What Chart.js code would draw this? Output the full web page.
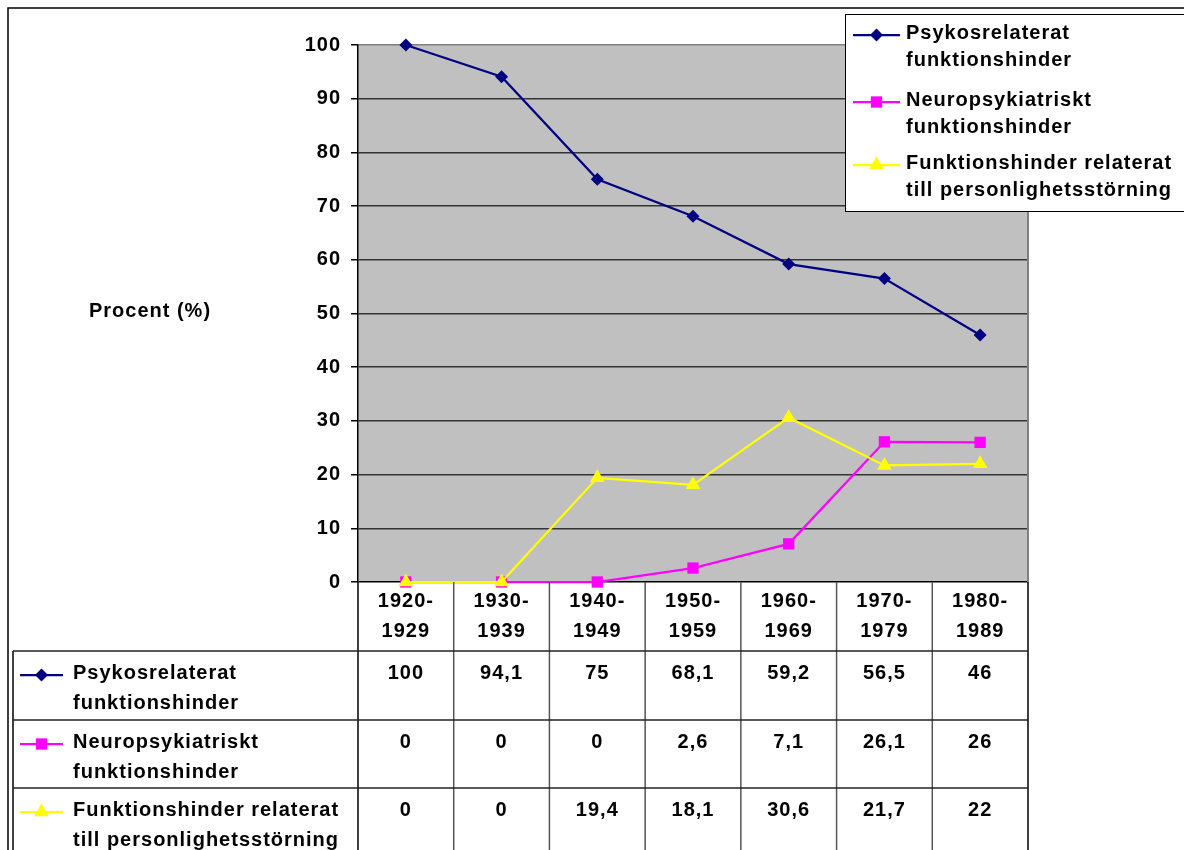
<!DOCTYPE html>
<html>
<head>
<meta charset="utf-8">
<script src="https://cdn.jsdelivr.net/npm/chart.js@4/dist/chart.umd.min.js"></script>
<style>
  html, body { margin: 0; padding: 0; background: #fff; }
  canvas { display: block; }
</style>
</head>
<body>
<canvas id="c" width="1184" height="850"></canvas>
<script>
// Decades on the x axis
const categories = ['1920-1929', '1930-1939', '1940-1949', '1950-1959', '1960-1969', '1970-1979', '1980-1989'];

// Share (%) per decade for each group
const psykos = [100, 94.1, 75, 68.1, 59.2, 56.5, 46];
const neuro = [0, 0, 0, 2.6, 7.1, 26.1, 26];
const personlighet = [0, 0, 19.4, 18.1, 30.6, 21.7, 22];

// Series names, wrapped over two lines
const seriesNames = [
  ['Psykosrelaterat', 'funktionshinder'],
  ['Neuropsykiatriskt', 'funktionshinder'],
  ['Funktionshinder relaterat', 'till personlighetsstörning']
];

// Value axis
const yMin = 0;
const yMax = 100;
const yStep = 10;
const axisTitle = 'Procent (%)';

const FAMILY = "'Liberation Sans', Arial, sans-serif";
const FONT = "bold 20px " + FAMILY;
const SPACING = '1px';

function fmt(v) {
  return String(v).replace('.', ',');
}

function drawMarker(ctx, style, x, y, r, color) {
  ctx.save();
  ctx.fillStyle = color;
  ctx.beginPath();
  if (style === 'rectRot') {
    ctx.moveTo(x, y - r);
    ctx.lineTo(x + r, y);
    ctx.lineTo(x, y + r);
    ctx.lineTo(x - r, y);
  } else if (style === 'rect') {
    const s = r * Math.SQRT1_2;
    ctx.rect(x - s, y - s, 2 * s, 2 * s);
  } else if (style === 'triangle') {
    ctx.moveTo(x, y - r);
    ctx.lineTo(x + r * Math.sin(Math.PI / 3), y + r / 2);
    ctx.lineTo(x - r * Math.sin(Math.PI / 3), y + r / 2);
  }
  ctx.closePath();
  ctx.fill();
  ctx.restore();
}

function drawSample(ctx, ds, x0, x1, y) {
  ctx.save();
  ctx.strokeStyle = ds.borderColor;
  ctx.lineWidth = ds.borderWidth;
  ctx.beginPath();
  ctx.moveTo(x0, y);
  ctx.lineTo(x1, y);
  ctx.stroke();
  ctx.restore();
  drawMarker(ctx, ds.pointStyle, (x0 + x1) / 2, y, ds.pointRadius, ds.pointBackgroundColor);
}

function line(ctx, x0, y0, x1, y1, color, w) {
  ctx.save();
  ctx.strokeStyle = color;
  ctx.lineWidth = w;
  ctx.beginPath();
  ctx.moveTo(x0, y0);
  ctx.lineTo(x1, y1);
  ctx.stroke();
  ctx.restore();
}

function text(ctx, str, x, y, align) {
  ctx.save();
  ctx.font = FONT;
  ctx.letterSpacing = SPACING;
  ctx.fillStyle = '#000';
  ctx.textAlign = align || 'left';
  ctx.textBaseline = 'middle';
  ctx.fillText(str, x, y);
  ctx.restore();
}

const decor = {
  id: 'decor',
  beforeDraw(chart) {
    const { ctx, chartArea: a } = chart;
    ctx.save();
    ctx.fillStyle = '#fff';
    ctx.fillRect(0, 0, chart.width, chart.height);
    ctx.fillStyle = '#c0c0c0';
    ctx.fillRect(a.left, a.top, a.right - a.left, a.bottom - a.top);
    ctx.restore();
    ctx.letterSpacing = SPACING;
  },
  afterDraw(chart) {
    const { ctx, chartArea: a } = chart;
    const xs = chart.scales.x;
    const datasets = chart.data.datasets;

    // plot area frame (right side)
    line(ctx, a.right, a.top, a.right, a.bottom, '#808080', 2);

    // outer frame
    ctx.save();
    ctx.strokeStyle = '#000';
    ctx.lineWidth = 1.5;
    ctx.beginPath();
    ctx.moveTo(8, chart.height);
    ctx.lineTo(8, 8);
    ctx.lineTo(chart.width, 8);
    ctx.stroke();
    ctx.restore();

    // value axis title
    text(ctx, axisTitle, 150, 311, 'center');

    // legend
    ctx.save();
    ctx.fillStyle = '#fff';
    ctx.strokeStyle = '#000';
    ctx.lineWidth = 1;
    ctx.fillRect(845.5, 14.5, 400, 197);
    ctx.strokeRect(845.5, 14.5, 400, 197);
    ctx.restore();
    const legTops = [33, 100, 163];
    datasets.forEach((ds, i) => {
      const y = legTops[i];
      drawSample(ctx, ds, 853, 900, y + 2);
      text(ctx, seriesNames[i][0], 906, y);
      text(ctx, seriesNames[i][1], 906, y + 27);
    });

    // data table
    const half = (xs.getPixelForValue(1) - xs.getPixelForValue(0)) / 2;
    const top = a.bottom;
    const rows = [top + 69, top + 138, top + 206];
    const tableLeft = 13;
    const bottom = chart.height;

    // column boundaries
    for (let i = 0; i <= categories.length; i++) {
      const x = i === categories.length ? a.right : xs.getPixelForValue(i) - half;
      const col = (i === 0 || i === categories.length) ? '#000' : '#555';
      line(ctx, x, top, x, bottom, col, 1.5);
    }
    line(ctx, tableLeft, rows[0], tableLeft, bottom, '#000', 1.5);
    rows.forEach(y => line(ctx, tableLeft, y, a.right, y, '#222', 1.5));

    // header row: decades
    categories.forEach((c, i) => {
      const cx = xs.getPixelForValue(i);
      const parts = c.split('-');
      text(ctx, parts[0] + '-', cx, top + 19, 'center');
      text(ctx, parts[1], cx, top + 49, 'center');
    });

    // one row per series
    datasets.forEach((ds, r) => {
      const ry = rows[r];
      drawSample(ctx, ds, 20, 63, ry + 24);
      text(ctx, seriesNames[r][0], 73, ry + 22);
      text(ctx, seriesNames[r][1], 73, ry + 52);
      ds.data.forEach((v, i) => {
        text(ctx, fmt(v), xs.getPixelForValue(i), ry + 22, 'center');
      });
    });
  }
};

const chart = new Chart(document.getElementById('c'), {
  type: 'line',
  data: {
    labels: categories,
    datasets: [
      {
        label: seriesNames[0].join(' '),
        data: psykos,
        borderColor: '#000080',
        backgroundColor: '#000080',
        pointBackgroundColor: '#000080',
        pointBorderWidth: 0,
        pointStyle: 'rectRot',
        pointRadius: 6.5,
        borderWidth: 2.25,
        order: 2,
        clip: false
      },
      {
        label: seriesNames[1].join(' '),
        data: neuro,
        borderColor: '#ff00ff',
        backgroundColor: '#ff00ff',
        pointBackgroundColor: '#ff00ff',
        pointBorderWidth: 0,
        pointStyle: 'rect',
        pointRadius: 8,
        borderWidth: 2.25,
        order: 1,
        clip: false
      },
      {
        label: seriesNames[2].join(' '),
        data: personlighet,
        borderColor: '#ffff00',
        backgroundColor: '#ffff00',
        pointBackgroundColor: '#ffff00',
        pointBorderWidth: 0,
        pointStyle: 'triangle',
        pointRadius: 8.5,
        borderWidth: 2.25,
        order: 0,
        clip: false
      }
    ]
  },
  options: {
    responsive: false,
    animation: false,
    devicePixelRatio: 1,
    layout: { padding: { top: 45, right: 156, left: 0, bottom: 0 } },
    plugins: {
      legend: { display: false },
      tooltip: { enabled: false }
    },
    elements: { line: { tension: 0 } },
    scales: {
      x: {
        type: 'category',
        offset: true,
        grid: { display: false },
        border: { display: false },
        ticks: { display: false },
        afterFit(s) { s.height = 268; }
      },
      y: {
        min: yMin,
        max: yMax,
        ticks: {
          stepSize: yStep,
          color: '#000',
          padding: 10,
          font: { family: FAMILY, size: 20, weight: 'bold' }
        },
        grid: {
          color: c => c.tick && c.tick.value === yMax ? '#808080' : (c.tick && c.tick.value === yMin ? '#000' : '#333'),
          tickColor: '#000',
          tickLength: 7,
          lineWidth: 1.5
        },
        border: { display: true, color: '#000', width: 1.5 },
        afterFit(s) { s.width = 358; }
      }
    }
  },
  plugins: [decor]
});
</script>
</body>
</html>
